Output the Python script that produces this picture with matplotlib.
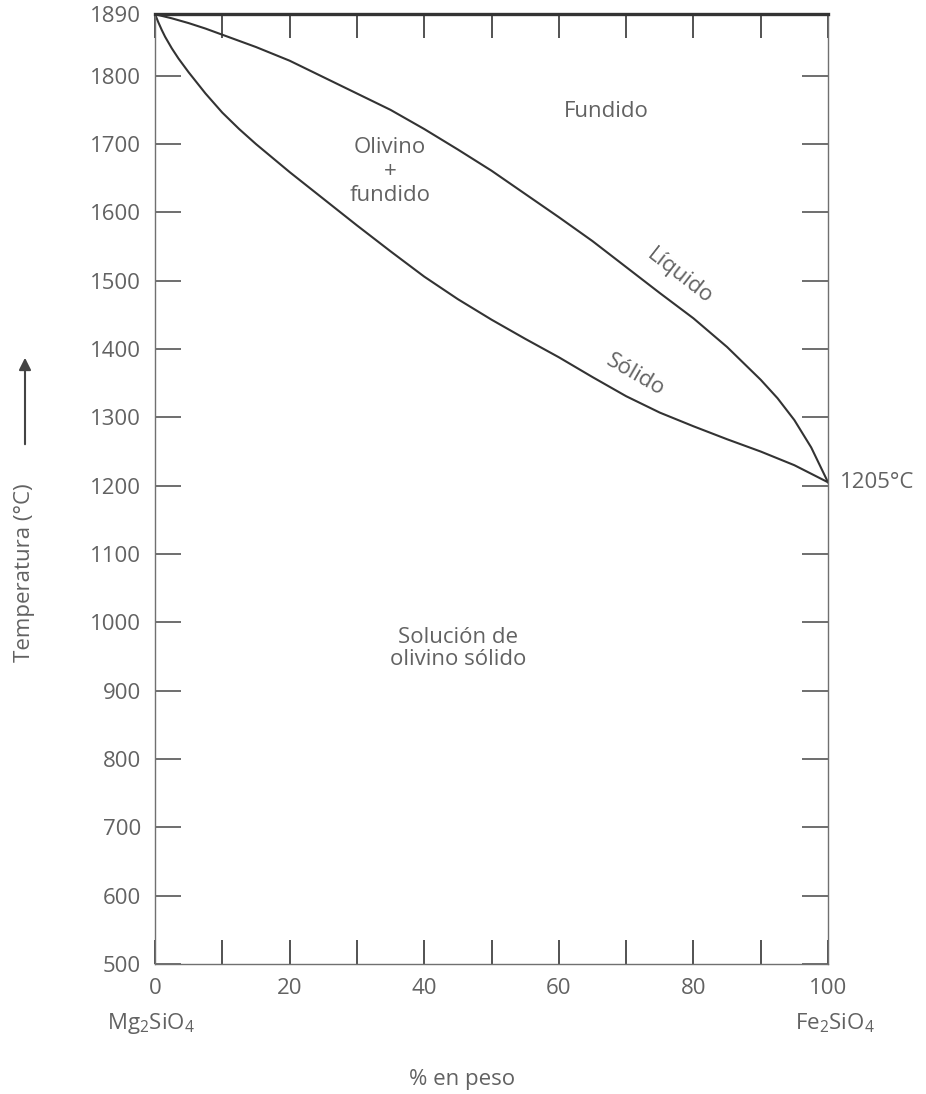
import matplotlib
matplotlib.use("Agg")
import matplotlib.pyplot as plt
from matplotlib.patches import FancyArrowPatch

plt.rcParams['font.family'] = ['Open Sans', 'DejaVu Sans']
plt.rcParams['mathtext.default'] = 'regular'

# composition (% en peso Fe2SiO4) and liquidus temperature (C)
liq_x = [0, 2.5, 5, 7.5, 10, 15, 20, 25, 30, 35, 40, 45, 50, 55, 60, 65, 70, 75, 80,
         85, 90, 92.5, 95, 97.5, 100]
liq_t = [1890, 1884, 1877, 1869, 1860, 1842, 1822, 1798, 1774, 1750, 1722, 1692, 1661,
         1627, 1593, 1558, 1520, 1482, 1445, 1403, 1355, 1328, 1296, 1256, 1205]
# composition and solidus temperature (C)
sol_x = [0, 0.5, 1, 1.5, 2.5, 3.5, 5, 7.5, 10, 12.5, 15, 20, 25, 30, 35, 40, 45, 50,
         55, 60, 65, 70, 75, 80, 85, 90, 95, 100]
sol_t = [1890, 1878, 1867, 1857, 1840, 1825, 1805, 1774, 1746, 1722, 1700, 1659, 1620,
         1581, 1543, 1506, 1473, 1443, 1415, 1388, 1359, 1331, 1307, 1287, 1268, 1250,
         1230, 1205]

y_ticks = [500, 600, 700, 800, 900, 1000, 1100, 1200, 1300, 1400, 1500, 1600, 1700, 1800, 1890]
x_ticks = [0, 10, 20, 30, 40, 50, 60, 70, 80, 90, 100]
x_ticklabels = ['0', '', '20', '', '40', '', '60', '', '80', '', '100']

ink = '#333333'
txt = '#626262'

fig = plt.figure(figsize=(9.26, 10.94), dpi=100)
ax = fig.add_axes([0.1674, 0.1188, 0.7268, 0.8682])

ax.plot(liq_x, liq_t, color=ink, lw=1.5, solid_joinstyle='round')
ax.plot(sol_x, sol_t, color=ink, lw=1.5, solid_joinstyle='round')

ax.set_xlim(0, 100)
ax.set_ylim(500, 1890)

for s in ['left', 'right', 'bottom']:
    ax.spines[s].set_color('#707070')
    ax.spines[s].set_linewidth(1.0)
ax.spines['top'].set_color(ink)
ax.spines['top'].set_linewidth(2.4)

ax.set_yticks(y_ticks)
ax.set_xticks(x_ticks)
ax.set_xticklabels(x_ticklabels)
ax.tick_params(axis='y', direction='in', length=19, width=1.2, color='#555555',
               right=True, labelsize=16, labelcolor=txt, pad=10)
ax.tick_params(axis='x', direction='in', length=17, width=1.3, color='#444444',
               top=True, labelsize=16, labelcolor=txt, pad=10)

ax.text(67.0, 1747, 'Fundido', ha='center', va='center', fontsize=16, color=txt)
ax.text(34.9, 1660, 'Olivino\n+\nfundido', ha='center', va='center', fontsize=16,
        color=txt, linespacing=1.2)
ax.text(78.0, 1507, 'Líquido', ha='center', va='center', fontsize=16, color=txt,
        rotation=-38, rotation_mode='anchor')
ax.text(71.3, 1362, 'Sólido', ha='center', va='center', fontsize=16, color=txt,
        rotation=-30, rotation_mode='anchor')
ax.text(45.0, 962, 'Solución de\nolivino sólido', ha='center', va='center',
        fontsize=16, color=txt, linespacing=1.1)
ax.text(101.8, 1205, '1205°C', ha='left', va='center', fontsize=16, color=txt,
        clip_on=False)

fig.text(107 / 926, 1 - 1023 / 1094, r'Mg$_2$SiO$_4$', ha='left', va='center',
         fontsize=16, color=txt)
fig.text(875 / 926, 1 - 1023 / 1094, r'Fe$_2$SiO$_4$', ha='right', va='center',
         fontsize=16, color=txt)
fig.text(462 / 926, 1 - 1080 / 1094, '% en peso', ha='center', va='center',
         fontsize=16, color=txt)
fig.text(25 / 926, 1 - 573 / 1094, 'Temperatura (°C)', ha='center', va='center',
         rotation=90, fontsize=16, color=txt)
fig.patches.append(FancyArrowPatch(
    (25 / 926, 1 - 447 / 1094), (25 / 926, 1 - 355 / 1094),
    transform=fig.transFigure, arrowstyle='-|>', mutation_scale=18,
    color='#444444', lw=1.5))

fig.savefig('out.png', dpi=100)
